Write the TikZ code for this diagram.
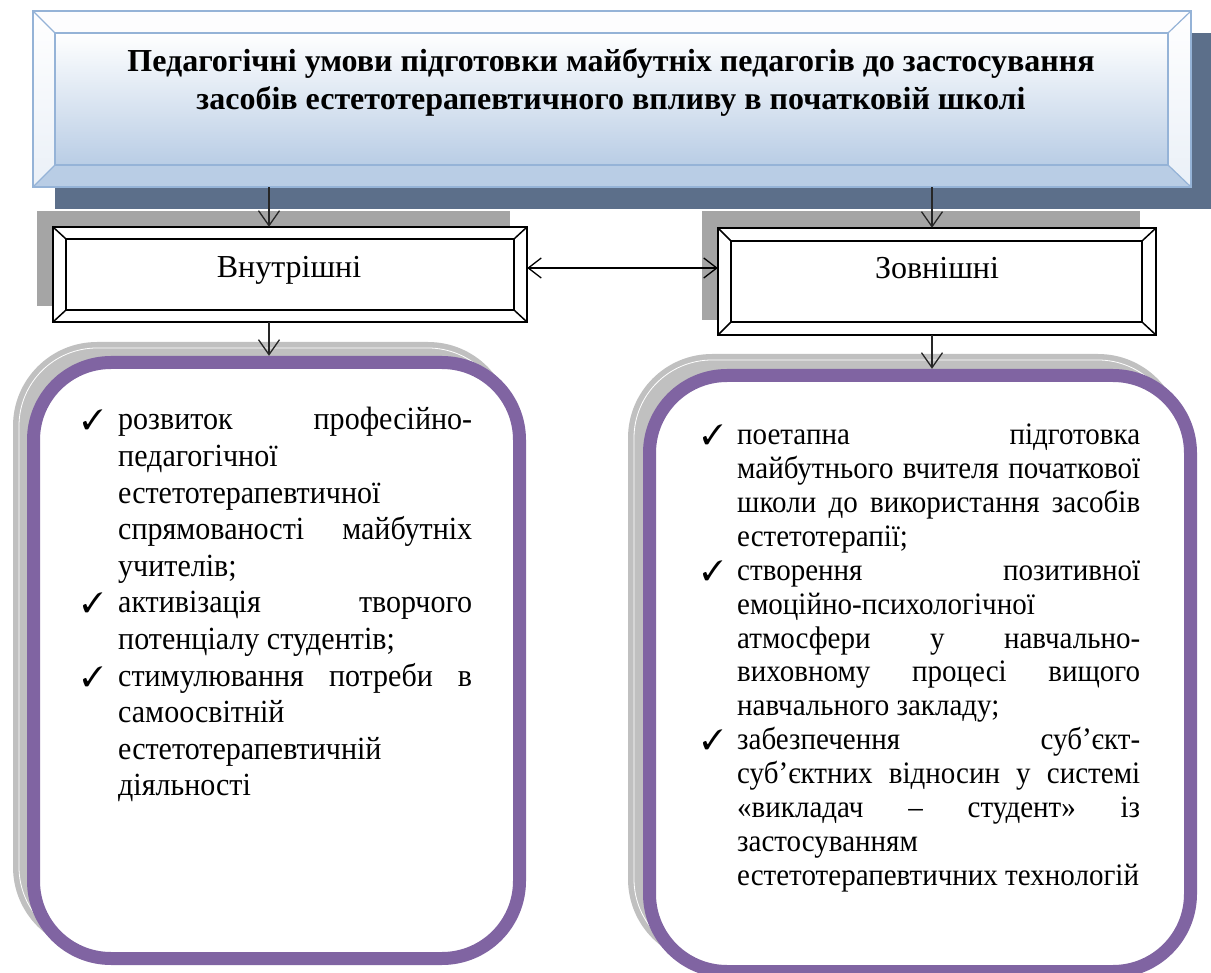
\documentclass[tikz,border=0pt]{standalone}
\usepackage{fontspec}
\setmainfont{Liberation Serif}
\newfontfamily\bodyfont{Liberation Serif}[FakeStretch=0.93]
\usepackage{pifont}
\usetikzlibrary{arrows.meta,calc}
\definecolor{slate}{RGB}{92,111,138}
\definecolor{bevline}{RGB}{149,179,215}
\definecolor{faceblue}{RGB}{185,205,229}
\definecolor{purp}{RGB}{128,100,162}
\definecolor{shgray}{RGB}{192,192,192}
\definecolor{boxgray}{RGB}{165,165,165}
\newlength\indw
\newcommand\JL[2]{\hbox to \hsize{\hbox to \indw{#1\hss}\makebox[\dimexpr\hsize-\indw\relax][s]{#2}}}
\newcommand\LL[2]{\hbox to \hsize{\hbox to \indw{#1\hss}#2\hss}}
\newcommand\ctrline[1]{\hbox to \hsize{\hss#1\hss}}
\newcommand\chk{{\fontsize{28pt}{28pt}\selectfont\ding{51}}}
\tikzset{
  arr/.style={draw=black!85, line width=1.3pt, -{Straight Barb[length=15pt,width=21pt]}},
  arrtwo/.style={draw=black, line width=1.3pt, {Straight Barb[length=13pt,width=20pt]}-{Straight Barb[length=13pt,width=20pt]}},
  boxlbl/.style={inner sep=0pt, anchor=base, font=\fontsize{32pt}{32pt}\selectfont},
  frame/.style={inner sep=0pt, draw=none},
}
\begin{document}
\begin{tikzpicture}[x=1pt,y=-1pt]
\useasboundingbox (0,0) rectangle (1211,973);
% ---------- title box ----------
\fill[slate] (55,33) rectangle (1211,209);
\node[frame, minimum width=1158pt, minimum height=176pt] (title) at (612,99) {};
\fill[white!97!faceblue] (33,11) -- (1191,11) -- (1168,33) -- (55,33) -- cycle;
\shade[top color=white, bottom color=white!70!faceblue] (33,11) -- (55,33) -- (55,165) -- (33,187) -- cycle;
\shade[top color=white, bottom color=white!70!faceblue] (1191,11) -- (1168,33) -- (1168,165) -- (1191,187) -- cycle;
\fill[faceblue] (33,187) -- (55,165) -- (1168,165) -- (1191,187) -- cycle;
\shade[top color=white, bottom color=faceblue] (55,33) rectangle (1168,165);
\draw[bevline, line width=1.5pt] (33,11) rectangle (1191,187);
\draw[bevline, line width=1.5pt] (55,33) rectangle (1168,165);
\draw[bevline, line width=1.2pt] (33,11) -- (55,33) (1191,11) -- (1168,33) (33,187) -- (55,165) (1191,187) -- (1168,165);
\node[inner sep=0pt, anchor=base] (titletext) at (611,72) {\vtop{\hsize=1150pt \baselineskip=38pt \lineskiplimit=-100pt \bfseries\fontsize{32pt}{38pt}\selectfont
 \ctrline{Педагогічні умови підготовки майбутніх педагогів до застосування}
 \ctrline{засобів естетотерапевтичного впливу в початковій школі}}};
% ---------- small boxes ----------
\fill[boxgray] (37,211) rectangle (510,306);
\node[frame, minimum width=474pt, minimum height=95pt] (lbox) at (290,274.5) {};
\draw[black, line width=2pt, fill=white] (53,227) rectangle (527,322);
\draw[black, line width=1.5pt] (66,239) rectangle (514,310);
\draw[black, line width=1.5pt] (53,227) -- (66,239) (527,227) -- (514,239) (53,322) -- (66,310) (527,322) -- (514,310);
\node[boxlbl] (ltitle) at (289,278) {Внутрішні};

\fill[boxgray] (702,211) rectangle (1140,320);
\node[frame, minimum width=438pt, minimum height=107pt] (rbox) at (937,281.5) {};
\draw[black, line width=2pt, fill=white] (718,228) rectangle (1156,335);
\draw[black, line width=1.5pt] (731,241) rectangle (1142,322);
\draw[black, line width=1.5pt] (718,228) -- (731,241) (1156,228) -- (1142,241) (718,335) -- (731,322) (1156,335) -- (1142,322);
\node[boxlbl] (rtitle) at (937,279) {Зовнішні};
% ---------- rounded boxes ----------
\fill[shgray, rounded corners=84pt] (13,342) rectangle (512,951);
\draw[white, line width=0.8pt, rounded corners=78pt] (19,348) rectangle (506,945);
\draw[purp, fill=white, line width=13pt, rounded corners=77.5pt] (33.5,362.5) rectangle (519.5,958.5);
\node[frame, minimum width=499pt, minimum height=609pt] (lrnd) at (276.5,660.5) {};

\fill[shgray, rounded corners=84pt] (628,354) rectangle (1182,963);
\draw[white, line width=0.8pt, rounded corners=78pt] (634,360) rectangle (1176,957);
\draw[purp, fill=white, line width=13pt, rounded corners=77.5pt] (649.5,375.5) rectangle (1190.5,971.5);
\node[frame, minimum width=554pt, minimum height=609pt] (rrnd) at (920,673.5) {};
% ---------- texts ----------
\node[inner sep=0pt, anchor=base west] (ltext) at (82,430) {\vtop{\hsize=390pt \indw=36pt \baselineskip=36.6pt \lineskiplimit=-100pt \bodyfont\fontsize{32.3pt}{36.6pt}\selectfont
\JL{\chk}{розвиток професійно-}
\LL{}{педагогічної}
\LL{}{естетотерапевтичної}
\JL{}{спрямованості майбутніх}
\LL{}{учителів;}
\JL{\chk}{активізація творчого}
\LL{}{потенціалу студентів;}
\JL{\chk}{стимулювання потреби в}
\LL{}{самоосвітній}
\LL{}{естетотерапевтичній}
\LL{}{діяльності}}};

\node[inner sep=0pt, anchor=base west] (rtext) at (702,445) {\vtop{\hsize=438pt \indw=35pt \baselineskip=33.85pt \lineskiplimit=-100pt \bodyfont\fontsize{31.2pt}{33.85pt}\selectfont
\JL{\chk}{поетапна підготовка}
\JL{}{майбутнього вчителя початкової}
\JL{}{школи до використання засобів}
\LL{}{естетотерапії;}
\JL{\chk}{створення позитивної}
\LL{}{емоційно-психологічної}
\JL{}{атмосфери у навчально-}
\JL{}{виховному процесі вищого}
\LL{}{навчального закладу;}
\JL{\chk}{забезпечення суб’єкт-}
\JL{}{суб’єктних відносин у системі}
\JL{}{«викладач – студент» із}
\LL{}{застосуванням}
\LL{}{естетотерапевтичних технологій}}};
% ---------- connectors ----------
\draw[arr] (title.south -| 269,0) -- (lbox.north -| 269,0);
\draw[arr] (title.south -| 932,0) -- (rbox.north -| 932,0);
\draw[arrtwo] (lbox.east |- 0,268) -- (rbox.west |- 0,268);
\draw[arr] (lbox.south -| 269,0) -- (lrnd.north -| 269,0);
\draw[arr] (rbox.south -| 932,0) -- (rrnd.north -| 932,0);
\end{tikzpicture}
\end{document}
